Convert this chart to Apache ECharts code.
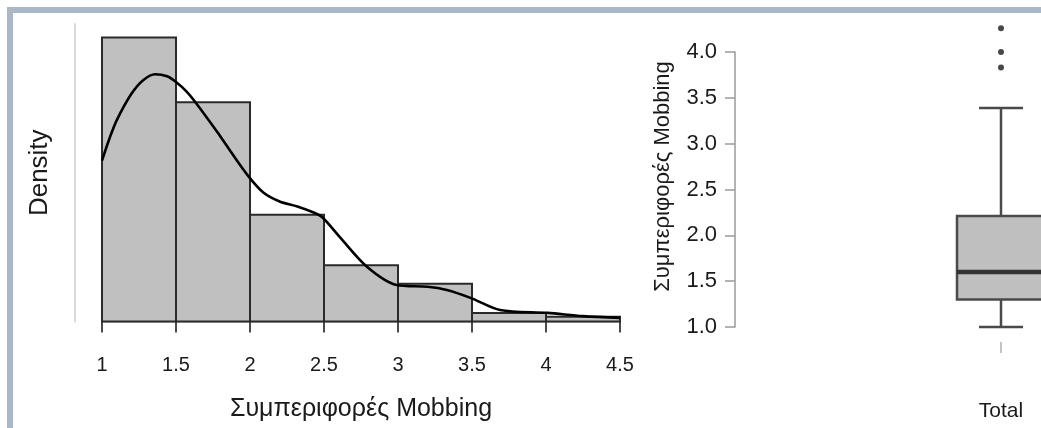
<!DOCTYPE html>
<html>
<head>
<meta charset="utf-8">
<script src="https://cdn.jsdelivr.net/npm/echarts@6/dist/echarts.min.js"></script>
<style>
  html, body { margin: 0; padding: 0; background: #fff; }
  #chart { width: 1041px; height: 428px; }
</style>
</head>
<body>
<div id="chart"></div>
<script>
// Histogram of the scores on the density scale (bin width 0.5)
const binEdges = [1, 1.5, 2, 2.5, 3, 3.5, 4, 4.5];
const binDensity = [0.792, 0.612, 0.298, 0.157, 0.105, 0.024, 0.013];

// Kernel density estimate over the same range
const kdeX = [1.00, 1.05, 1.10, 1.20, 1.28, 1.36, 1.44, 1.50, 1.57, 1.64, 1.78, 1.86, 1.99, 2.09, 2.20, 2.32, 2.43, 2.49, 2.61, 2.79, 2.99, 3.20, 3.33, 3.49, 3.69, 4.01, 4.25, 4.50];
const kdeY = [0.449, 0.510, 0.562, 0.636, 0.674, 0.690, 0.684, 0.668, 0.642, 0.607, 0.528, 0.480, 0.405, 0.360, 0.335, 0.321, 0.304, 0.290, 0.234, 0.153, 0.102, 0.097, 0.088, 0.066, 0.032, 0.024, 0.015, 0.010];

// Histogram axis tick labels
const histTicks = ['1', '1.5', '2', '2.5', '3', '3.5', '4', '4.5'];

// Box plot: [lower whisker, Q1, median, Q3, upper whisker]
const boxCategories = ['Total'];
const boxStats = [1.0, 1.3, 1.6, 2.21, 3.39];
const boxOutliers = [3.83, 4.0, 4.26];
const boxTicks = ['1.0', '1.5', '2.0', '2.5', '3.0', '3.5', '4.0'];

const FONT = "'Liberation Sans', Arial, sans-serif";
const TXT = '#1a1a1a';

const histData = binDensity.map((d, i) => [binEdges[i], binEdges[i + 1], d]);
const kdeData = kdeX.map((x, i) => [x, kdeY[i]]);
const boxData = [[0].concat(boxStats)];
const outlierData = boxOutliers.map(v => [0, v]);

const chart = echarts.init(document.getElementById('chart'));

chart.setOption({
  animation: false,
  backgroundColor: '#ffffff',
  textStyle: { fontFamily: FONT },
  graphic: [
    { type: 'rect', shape: { x: 7, y: 7, width: 1034, height: 6 }, style: { fill: '#abb8ca' }, silent: true },
    { type: 'rect', shape: { x: 7, y: 7, width: 6, height: 421 }, style: { fill: '#abb8ca' }, silent: true }
  ],
  grid: [
    { left: 102, top: 24, width: 518, height: 297.5, outerBoundsMode: 'none' },
    { left: 735, top: 52, width: 532, height: 275, outerBoundsMode: 'none' }
  ],
  xAxis: [
    {
      gridIndex: 0, type: 'value', min: 1, max: 4.5, interval: 0.5,
      offset: 14,
      splitLine: { show: false },
      axisLine: { show: true, lineStyle: { color: '#d4d4d4', width: 2 } },
      axisTick: { show: true, length: 11, lineStyle: { color: '#4a4a4a', width: 2 } },
      axisLabel: {
        margin: 20, fontSize: 20, color: TXT, fontFamily: FONT,
        formatter: v => histTicks[Math.round((v - 1) / 0.5)]
      },
      name: 'Συμπεριφορές Mobbing', nameLocation: 'middle', nameGap: 61,
      nameTextStyle: { fontSize: 25, color: TXT, fontFamily: FONT }
    },
    {
      gridIndex: 1, type: 'category', data: boxCategories,
      offset: 15,
      axisLine: { show: false },
      axisTick: { show: true, alignWithLabel: true, length: 11, lineStyle: { color: '#b0b0b0', width: 1.5 } },
      axisLabel: { margin: 59, fontSize: 21, color: TXT, fontFamily: FONT },
      splitLine: { show: false }
    }
  ],
  yAxis: [
    {
      gridIndex: 0, type: 'value', min: 0, max: 0.83,
      offset: 27,
      splitLine: { show: false },
      axisLine: { show: true, lineStyle: { color: '#d9d9d9', width: 2 } },
      axisTick: { show: false },
      axisLabel: { show: false },
      name: 'Density', nameLocation: 'middle', nameGap: 22,
      nameTextStyle: { fontSize: 26, color: TXT, fontFamily: FONT }
    },
    {
      gridIndex: 1, type: 'value', min: 1, max: 4, interval: 0.5,
      splitLine: { show: false },
      axisLine: { show: true, lineStyle: { color: '#9a9a9a', width: 1.5 } },
      axisTick: { show: true, length: 10, lineStyle: { color: '#9a9a9a', width: 1.5 } },
      axisLabel: {
        margin: 18, fontSize: 22, color: TXT, fontFamily: FONT,
        formatter: v => boxTicks[Math.round((v - 1) / 0.5)]
      },
      name: 'Συμπεριφορές Mobbing', nameLocation: 'middle', nameGap: 61,
      nameTextStyle: { fontSize: 22, color: TXT, fontFamily: FONT, padding: [0, 0, 0, 26] }
    }
  ],
  series: [
    {
      type: 'custom', name: 'histogram', xAxisIndex: 0, yAxisIndex: 0,
      data: histData,
      encode: { x: [0, 1], y: 2 },
      renderItem: function (params, api) {
        const p0 = api.coord([api.value(0), 0]);
        const p1 = api.coord([api.value(1), api.value(2)]);
        return {
          type: 'rect',
          shape: { x: p0[0], y: p1[1], width: p1[0] - p0[0], height: p0[1] - p1[1] },
          style: { fill: '#c0c0c0', stroke: '#2a2a2a', lineWidth: 2 }
        };
      },
      z: 2
    },
    {
      type: 'line', name: 'density', xAxisIndex: 0, yAxisIndex: 0,
      data: kdeData, smooth: 0.3, symbol: 'none',
      lineStyle: { color: '#000', width: 2.6 },
      z: 3
    },
    {
      type: 'custom', name: 'box', xAxisIndex: 1, yAxisIndex: 1,
      data: boxData,
      encode: { x: 0, y: [1, 2, 3, 4, 5] },
      renderItem: function (params, api) {
        const c = api.value(0);
        const pLo = api.coord([c, api.value(1)]);
        const pQ1 = api.coord([c, api.value(2)]);
        const pMed = api.coord([c, api.value(3)]);
        const pQ3 = api.coord([c, api.value(4)]);
        const pHi = api.coord([c, api.value(5)]);
        const cx = pMed[0];
        const half = 44, cap = 22;
        const stroke = { stroke: '#4a4a4a', lineWidth: 2.5, fill: null };
        return {
          type: 'group',
          children: [
            { type: 'line', shape: { x1: cx, y1: pHi[1], x2: cx, y2: pQ3[1] }, style: stroke },
            { type: 'line', shape: { x1: cx, y1: pQ1[1], x2: cx, y2: pLo[1] }, style: stroke },
            { type: 'line', shape: { x1: cx - cap, y1: pHi[1], x2: cx + cap, y2: pHi[1] }, style: stroke },
            { type: 'line', shape: { x1: cx - cap, y1: pLo[1], x2: cx + cap, y2: pLo[1] }, style: stroke },
            {
              type: 'rect',
              shape: { x: cx - half, y: pQ3[1], width: half * 2, height: pQ1[1] - pQ3[1] },
              style: { fill: '#bfbfbf', stroke: '#4a4a4a', lineWidth: 2.5 }
            },
            { type: 'line', shape: { x1: cx - half, y1: pMed[1], x2: cx + half, y2: pMed[1] }, style: { stroke: '#333', lineWidth: 4.5 } }
          ]
        };
      },
      z: 2
    },
    {
      type: 'scatter', name: 'outliers', xAxisIndex: 1, yAxisIndex: 1,
      data: outlierData, clip: false,
      symbol: 'circle', symbolSize: 6,
      itemStyle: { color: '#1a1a1a' },
      z: 3
    }
  ]
});
</script>
</body>
</html>
